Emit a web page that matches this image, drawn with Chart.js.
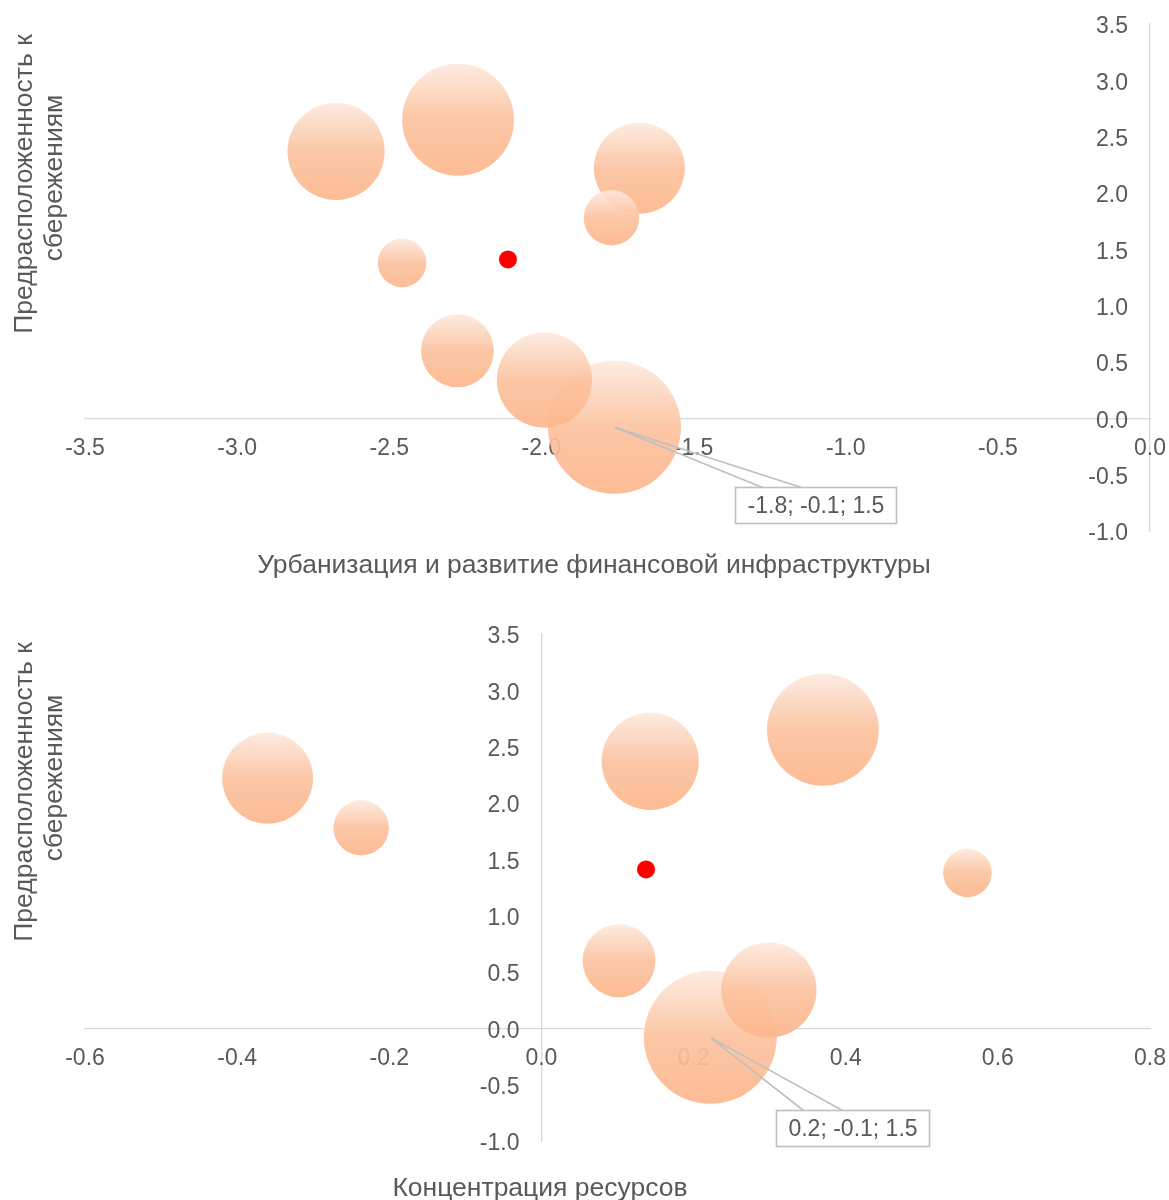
<!DOCTYPE html>
<html>
<head>
<meta charset="utf-8">
<script src="https://cdn.jsdelivr.net/npm/chart.js@4.4.1/dist/chart.umd.min.js"></script>
<style>
  html, body { margin: 0; padding: 0; background: #ffffff; }
  #wrap { position: relative; width: 1169px; height: 1200px; overflow: hidden; }
  #wrap canvas { position: absolute; left: 0; }
</style>
</head>
<body>
<div id="wrap">
  <canvas id="urbanChart" width="1169" height="600" style="top:0;width:1169px;height:600px"></canvas>
  <canvas id="concChart" width="1169" height="600" style="top:600px;width:1169px;height:600px"></canvas>
</div>
<script>
// Regions: savings propensity vs. two factor scores, bubble = relative weight
const savings       = [2.37, 2.65, 2.22, 1.78, 1.38, 0.60, 0.34, -0.08];
const urbanization  = [-2.675, -2.274, -1.678, -1.770, -2.458, -2.276, -1.990, -1.760];
const concentration = [0.143, 0.370, -0.360, -0.237, 0.560, 0.102, 0.299, 0.222];
const bubbleSize    = [0.80, 1.06, 0.70, 0.26, 0.20, 0.45, 0.77, 1.50];

// Highlighted reference point (red marker)
const refSavings       = [1.41];
const refUrbanization  = [-2.11];
const refConcentration = [0.1375];

// Axis ranges and tick step
const savingsRange = [-1.0, 3.5];
const urbanRange   = [-3.5, 0.0];
const concRange    = [-0.6, 0.8];
const savingsStep = 0.5, urbanStep = 0.5, concStep = 0.2;

const yTitle = ['Предрасположенность к', 'сбережениям'];
const urbanTitle = 'Урбанизация и развитие финансовой инфраструктуры';
const concTitle = 'Концентрация ресурсов';

const TEXT = '#595959';
const FONT = '"Liberation Sans", Arial, sans-serif';
const TICK_PX = 23;
const TITLE_PX = 26.5;
const MAX_R = 66.5;
const PLOT_W = 1065;

function fmt(v) {
  if (Math.abs(v) < 1e-9) v = 0;
  return v.toFixed(1);
}

// Bubbles drawn from largest to smallest so small ones sit on top
function bubblePoints(xs) {
  const idx = bubbleSize.map((_, i) => i).sort((a, b) => bubbleSize[b] - bubbleSize[a]);
  return idx.map(i => ({
    x: xs[i], y: savings[i], s: bubbleSize[i],
    r: MAX_R * Math.sqrt(bubbleSize[i] / Math.max(...bubbleSize))
  }));
}

const FLAT = 'rgba(251,192,156,0.9)';
function bubbleFill(ctx) {
  if (ctx.type !== 'data' || !ctx.raw) return FLAT;
  const chart = ctx.chart;
  const ys = chart.scales.y;
  const raw = ctx.raw;
  const cy = ys ? ys.getPixelForValue(raw.y) : NaN;
  if (!isFinite(cy) || !isFinite(raw.r)) return FLAT;
  const g = chart.ctx.createLinearGradient(0, cy - raw.r, 0, cy + raw.r);
  g.addColorStop(0.0, 'rgba(253,233,222,0.9)');
  g.addColorStop(0.5, 'rgba(251,194,158,0.92)');
  g.addColorStop(1.0, 'rgba(252,182,140,0.92)');
  return g;
}

// Axes take no room of their own: the plot box is set by layout padding
function noRoom(s) {
  if (s.isHorizontal()) s.height = 0; else s.width = 0;
  s.paddingLeft = s.paddingRight = s.paddingTop = s.paddingBottom = 0;
}

function buildScales(xRange, xStep) {
  const tickFont = { family: FONT, size: TICK_PX };
  // y labels sit 22px left of the vertical axis line
  const yLabelX = -22 * (xRange[1] - xRange[0]) / PLOT_W;
  return {
    // axis lines (under the bubbles)
    x: {
      type: 'linear', min: xRange[0], max: xRange[1], position: { y: 0 }, z: 0,
      ticks: { display: false, stepSize: xStep },
      grid: { drawOnChartArea: false, drawTicks: false },
      border: { display: true, color: '#d9d9d9', width: 1.3 },
      afterFit: noRoom
    },
    y: {
      type: 'linear', min: savingsRange[0], max: savingsRange[1], position: { x: 0 }, z: 0,
      ticks: { display: false, stepSize: savingsStep },
      grid: { drawOnChartArea: false, drawTicks: false },
      border: { display: true, color: '#d9d9d9', width: 1.3 },
      afterFit: noRoom
    },
    // tick labels (above the bubbles)
    xt: {
      type: 'linear', axis: 'x', min: xRange[0], max: xRange[1], position: { y: 0 }, z: 1,
      ticks: { stepSize: xStep, color: TEXT, font: tickFont, padding: 17, maxRotation: 0, autoSkip: false,
               callback: v => fmt(v) },
      grid: { display: false, drawTicks: false },
      border: { display: false },
      afterFit: noRoom
    },
    yt: {
      type: 'linear', axis: 'y', min: savingsRange[0], max: savingsRange[1], position: { x: yLabelX }, z: 1,
      ticks: { stepSize: savingsStep, color: TEXT, font: tickFont, padding: 0, labelOffset: 3, autoSkip: false,
               callback: v => fmt(v) },
      grid: { display: false, drawTicks: false },
      border: { display: false },
      afterFit: noRoom
    }
  };
}

// Axis titles drawn as canvas text
const axisTitles = {
  id: 'axisTitles',
  afterDraw(chart, args, opts) {
    const c = chart.ctx;
    c.save();
    c.fillStyle = TEXT;
    c.font = TITLE_PX + 'px ' + FONT;
    c.textAlign = 'center';
    c.textBaseline = 'alphabetic';
    c.fillText(opts.xText, opts.xPos[0], opts.xPos[1]);
    opts.yLines.forEach((line, i) => {
      c.save();
      c.translate(opts.yBase[i], opts.yCenter[i]);
      c.rotate(-Math.PI / 2);
      c.fillText(line, 0, 0);
      c.restore();
    });
    c.restore();
  }
};

// Data callout for the largest bubble: "x; y; size"
const callout = {
  id: 'callout',
  afterDraw(chart, args, opts) {
    const ds = chart.data.datasets[1];
    const meta = chart.getDatasetMeta(1);
    let k = 0;
    ds.data.forEach((p, i) => { if (p.s > ds.data[k].s) k = i; });
    const p = ds.data[k];
    const el = meta.data[k];
    if (!el) return;
    const text = fmt(p.x) + '; ' + fmt(p.y) + '; ' + fmt(p.s);
    const c = chart.ctx;
    c.save();
    c.font = TICK_PX + 'px ' + FONT;
    const w = Math.round(c.measureText(text).width + 24);
    const h = 36;
    const bx = Math.round(el.x + opts.dx) + 0.5;
    const by = Math.round(el.y + opts.dy) + 0.5;
    c.strokeStyle = '#bfbfbf';
    c.lineWidth = 1.6;
    c.beginPath();
    c.moveTo(el.x, el.y);
    c.lineTo(bx + 27, by);
    c.moveTo(el.x, el.y);
    c.lineTo(bx + 66, by);
    c.stroke();
    c.fillStyle = '#ffffff';
    c.fillRect(bx, by, w, h);
    c.strokeRect(bx, by, w, h);
    c.fillStyle = TEXT;
    c.textAlign = 'center';
    c.textBaseline = 'middle';
    c.fillText(text, bx + w / 2, by + h / 2 + 1);
    c.restore();
  }
};

function makeChart(id, xs, refX, xRange, xStep, pad, titles, call) {
  return new Chart(document.getElementById(id), {
    type: 'bubble',
    data: {
      datasets: [
        {
          label: 'ref',
          data: refX.map((x, i) => ({ x: x, y: refSavings[i], r: 9 })),
          backgroundColor: '#ff0000',
          borderWidth: 0,
          clip: false
        },
        {
          label: 'regions',
          data: bubblePoints(xs),
          backgroundColor: bubbleFill,
          borderWidth: 0,
          clip: false
        }
      ]
    },
    options: {
      responsive: false,
      animation: false,
      events: [],
      layout: { padding: pad, autoPadding: false },
      scales: buildScales(xRange, xStep),
      plugins: {
        legend: { display: false },
        tooltip: { enabled: false },
        axisTitles: titles,
        callout: call
      }
    },
    plugins: [axisTitles, callout]
  });
}

makeChart('urbanChart', urbanization, refUrbanization, urbanRange, urbanStep,
  { left: 85, right: 19, top: 24, bottom: 69 },
  { xText: urbanTitle, xPos: [594, 573], yLines: yTitle, yBase: [32, 62], yCenter: [184, 178] },
  { dx: 121, dy: 60 });

makeChart('concChart', concentration, refConcentration, concRange, concStep,
  { left: 85, right: 19, top: 34, bottom: 59 },
  { xText: concTitle, xPos: [540, 596], yLines: yTitle, yBase: [32, 62], yCenter: [192, 178] },
  { dx: 66, dy: 73 });
</script>
</body>
</html>
